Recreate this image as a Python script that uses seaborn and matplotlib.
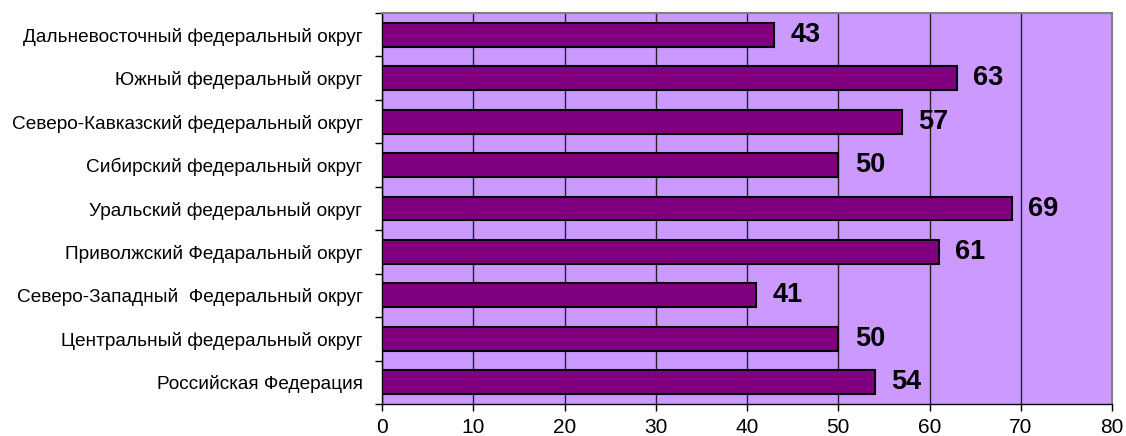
import matplotlib
matplotlib.use("Agg")
import matplotlib.pyplot as plt
import seaborn as sns
import pandas as pd
import numpy as np
from matplotlib.ticker import FixedLocator, MultipleLocator

categories = [
    "Дальневосточный федеральный округ",
    "Южный федеральный округ",
    "Северо-Кавказский федеральный округ",
    "Сибирский федеральный округ",
    "Уральский федеральный округ",
    "Приволжский Федаральный округ",
    "Северо-Западный  Федеральный округ",
    "Центральный федеральный округ",
    "Российская Федерация",
]
values = [43, 63, 57, 50, 69, 61, 41, 50, 54]

df = pd.DataFrame({"region": categories, "value": values})

sns.set_theme(style="white")
plt.rcParams["font.family"] = ["Liberation Sans", "DejaVu Sans"]

fig = plt.figure(figsize=(11.26, 4.36), dpi=100)
ax = fig.add_axes([382 / 1126, 1 - 404 / 436, (1112 - 382) / 1126, (404 - 13) / 436])
ax.set_facecolor("#CC99FF")

sns.barplot(data=df, x="value", y="region", order=categories, orient="h",
            color="#800080", saturation=1, width=0.55, edgecolor="black",
            linewidth=1.5, ax=ax, zorder=3)

ax.set_xlim(0, 80)
ax.set_ylim(len(categories) - 0.5, -0.5)
ax.xaxis.set_major_locator(MultipleLocator(10))
ax.grid(axis="x", color="#222222", linewidth=1, zorder=0)
ax.set_axisbelow(True)

for i, v in enumerate(values):
    ax.text(v + 1.8, i, str(v), va="center", ha="left", fontsize=19.5,
            fontweight="bold", color="black", zorder=4)

ax.set_xlabel("")
ax.set_ylabel("")
ax.tick_params(axis="y", which="major", length=0, pad=14, labelsize=13.7, labelcolor="black")
ax.yaxis.set_minor_locator(FixedLocator(np.arange(-0.5, len(categories), 1)))
ax.tick_params(axis="y", which="minor", length=5, width=1, color="black", direction="out", left=True)
ax.tick_params(axis="x", which="major", length=5, width=1, color="black", direction="out",
               bottom=True, labelsize=15, labelcolor="black", pad=5)

for s in ["left", "bottom"]:
    ax.spines[s].set_color("black")
    ax.spines[s].set_linewidth(1)
for s in ["top", "right"]:
    ax.spines[s].set_color("#808080")
    ax.spines[s].set_linewidth(1.5)

fig.savefig("out.png", dpi=100, facecolor="white")
